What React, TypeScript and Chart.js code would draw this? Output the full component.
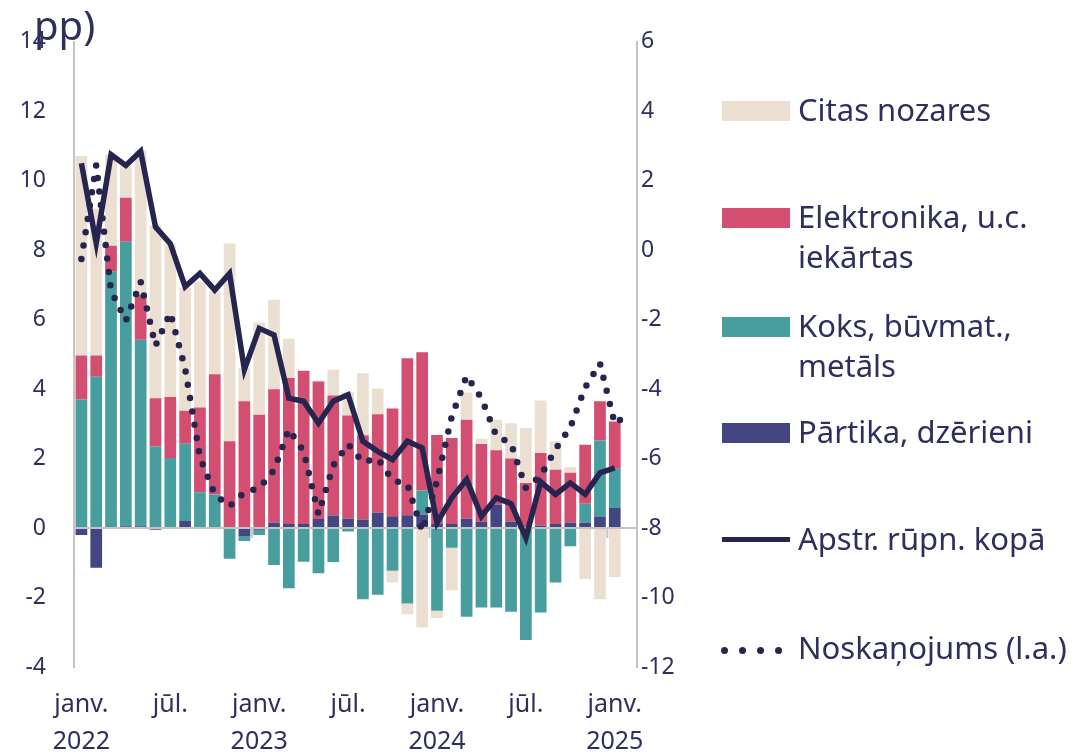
import React, { useEffect, useRef } from 'react';
import { Chart, registerables } from 'chart.js';

Chart.register(...registerables);

// ---- data ----
const months = [
  'janv. 2022', 'febr. 2022', 'marts 2022', 'apr. 2022', 'maijs 2022', 'jūn. 2022',
  'jūl. 2022', 'aug. 2022', 'sept. 2022', 'okt. 2022', 'nov. 2022', 'dec. 2022',
  'janv. 2023', 'febr. 2023', 'marts 2023', 'apr. 2023', 'maijs 2023', 'jūn. 2023',
  'jūl. 2023', 'aug. 2023', 'sept. 2023', 'okt. 2023', 'nov. 2023', 'dec. 2023',
  'janv. 2024', 'febr. 2024', 'marts 2024', 'apr. 2024', 'maijs 2024', 'jūn. 2024',
  'jūl. 2024', 'aug. 2024', 'sept. 2024', 'okt. 2024', 'nov. 2024', 'dec. 2024',
  'janv. 2025', 'febr. 2025',
];

const partika = [
  -0.2, -1.14, 0, 0.05, 0.05, -0.05, 0, 0.2, 0, 0, 0, -0.23,
  -0.05, 0.15, 0.12, 0.12, 0.26, 0.36, 0.27, 0.25, 0.44, 0.34, 0.37, 0.39,
  0.13, 0.12, 0.27, 0.18, 0.67, 0.18, 0.05, 0.07, 0.12, 0.15, 0.15, 0.33,
  0.58, null,
];

const koks = [
  3.7, 4.36, 7.38, 8.19, 5.37, 2.35, 2.02, 2.23, 1.03, 0.97, -0.88, -0.14,
  -0.15, -1.06, -1.73, -0.97, -1.3, -0.98, -0.1, -2.05, -1.92, -1.23, -2.17, 0.69,
  -2.38, -0.57, -2.55, -2.29, -2.29, -2.41, -3.22, -2.43, -1.57, -0.52, 0.55, 2.19,
  1.13, null,
];

const elektronika = [
  1.27, 0.61, 0.75, 1.27, 1.29, 1.39, 1.75, 0.95, 2.44, 3.46, 2.5, 3.65,
  3.26, 3.85, 4.2, 4.41, 3.96, 3.46, 2.97, 2.42, 2.84, 3.1, 4.52, 3.98,
  2.55, 2.47, 2.85, 2.24, 1.57, 1.82, 1.25, 2.09, 1.56, 1.44, 1.7, 1.13,
  1.36, null,
];

const citas = [
  5.74, 4.23, 2.62, 0.93, 4.16, 4.98, 4.42, 3.54, 3.62, 2.39, 5.69, 0.95,
  2.66, 2.57, 1.13, 0, 0.03, 0.74, 0.67, 1.79, 0.73, -0.34, -0.31, -2.86,
  -0.21, -1.22, 0.78, 0.15, 0.88, 1.02, 1.58, 1.51, 0.82, 0.16, -1.47, -2.05,
  -1.41, null,
];

const kopa = [
  10.5, 8.2, 10.75, 10.44, 10.85, 8.67, 8.19, 6.95, 7.33, 6.85, 7.33, 4.56,
  5.75, 5.56, 3.74, 3.65, 3.02, 3.65, 3.84, 2.5, 2.21, 1.97, 2.5, 2.31,
  0.15, 0.87, 1.4, 0.34, 0.87, 0.7, -0.28, 1.33, 0.97, 1.3, 0.97, 1.59,
  1.73, null,
];

const noskanojums = [
  -0.25, 2.45, -1.17, -2.03, -0.91, -2.75, -1.8, -3.41, -5.96, -7.03, -7.37, -6.97,
  -6.85, -6.33, -5.16, -5.79, -7.6, -6.2, -5.59, -6.1, -6.0, -6.62, -6.74, -8.09,
  -6.65, -4.78, -3.62, -4.26, -5.34, -5.57, -6.85, -6.5, -5.73, -5.1, -3.95, -3.26,
  -5.0, -4.68,
];

const leftTicks = { min: -4, max: 14, step: 2 };
const rightTicks = { min: -12, max: 6, step: 2 };

// ---- styles ----
const FONT = '"Noto Sans", "Open Sans", sans-serif';
const TEXT = '#2f2f5e';
const GRAY = '#c4c4c4';
const NAVY_LINE = '#25254f';
const C_BEIGE = '#eadfd0';
const C_PINK = '#d24f72';
const C_TEAL = '#489e9e';
const C_NAVY = '#444682';

const legendItems = [
  { kind: 'box', color: C_BEIGE, lines: ['Citas nozares'], top: 89 },
  { kind: 'box', color: C_PINK, lines: ['Elektronika, u.c.', 'iekārtas'], top: 196 },
  { kind: 'box', color: C_TEAL, lines: ['Koks, būvmat.,', 'metāls'], top: 305 },
  { kind: 'box', color: C_NAVY, lines: ['Pārtika, dzērieni'], top: 411 },
  { kind: 'line', color: NAVY_LINE, lines: ['Apstr. rūpn. kopā'], top: 518 },
  { kind: 'dots', color: NAVY_LINE, lines: ['Noskaņojums (l.a.)'], top: 627 },
];

function xTick(i: number): string | string[] {
  const [m, y] = months[i].split(' ');
  if (m === 'janv.') return ['janv.', y];
  if (m === 'jūl.') return 'jūl.';
  return '';
}

const yearTicks = {
  id: 'yearTicks',
  beforeDatasetsDraw(chart: any) {
    const xs = chart.scales.x;
    const ys = chart.scales.y;
    const y0 = ys.getPixelForValue(0);
    const ctx = chart.ctx;
    ctx.save();
    ctx.strokeStyle = GRAY;
    ctx.lineWidth = 2;
    months.forEach((m, i) => {
      if (i > 0 && m.startsWith('janv.')) {
        const px = (xs.getPixelForValue(i - 1) + xs.getPixelForValue(i)) / 2;
        ctx.beginPath();
        ctx.moveTo(px, y0);
        ctx.lineTo(px, y0 + 10);
        ctx.stroke();
      }
    });
    ctx.restore();
  },
};

export default function App() {
  const ref = useRef<HTMLCanvasElement | null>(null);

  useEffect(() => {
    if (!ref.current) return;
    const chart = new Chart(ref.current, {
      data: {
        labels: months,
        datasets: [
          {
            type: 'line',
            label: 'Apstr. rūpn. kopā',
            data: kopa,
            yAxisID: 'y',
            stack: 'line',
            borderColor: NAVY_LINE,
            borderWidth: 5.5,
            borderJoinStyle: 'miter',
            pointRadius: 0,
            tension: 0,
            order: 0,
          },
          {
            type: 'line',
            label: 'Noskaņojums (l.a.)',
            data: noskanojums,
            yAxisID: 'y2',
            borderColor: NAVY_LINE,
            borderWidth: 6.5,
            borderDash: [0, 13.5],
            borderCapStyle: 'round',
            pointRadius: 0,
            tension: 0,
            order: 1,
          },
          { type: 'bar', label: 'Pārtika, dzērieni', data: partika, backgroundColor: C_NAVY, stack: 'bars', yAxisID: 'y', order: 2 },
          { type: 'bar', label: 'Koks, būvmat., metāls', data: koks, backgroundColor: C_TEAL, stack: 'bars', yAxisID: 'y', order: 2 },
          { type: 'bar', label: 'Elektronika, u.c. iekārtas', data: elektronika, backgroundColor: C_PINK, stack: 'bars', yAxisID: 'y', order: 2 },
          { type: 'bar', label: 'Citas nozares', data: citas, backgroundColor: C_BEIGE, stack: 'bars', yAxisID: 'y', order: 2 },
        ] as any,
      },
      options: {
        animation: false,
        responsive: false,
        maintainAspectRatio: false,
        layout: { padding: { left: 0, right: 0, top: 40, bottom: 0 } },
        datasets: { bar: { categoryPercentage: 1, barPercentage: 0.79 } } as any,
        plugins: {
          legend: { display: false },
          tooltip: { enabled: false },
        },
        scales: {
          x: {
            type: 'category',
            offset: true,
            stacked: true,
            grid: { display: false, drawTicks: false },
            border: { display: false },
            ticks: {
              autoSkip: false,
              maxRotation: 0,
              minRotation: 0,
              padding: 19,
              color: TEXT,
              font: { family: FONT, size: 25, lineHeight: 1.48 },
              callback: (_v: any, i: number) => xTick(i),
            },
            afterFit: (s: any) => { s.height = 88; },
          },
          y: {
            position: 'left',
            stacked: true,
            min: leftTicks.min,
            max: leftTicks.max,
            ticks: {
              stepSize: leftTicks.step,
              padding: 28,
              color: TEXT,
              font: { family: FONT, size: 23 },
            },
            grid: {
              drawTicks: false,
              color: (c: any) => (c.tick && c.tick.value === 0 ? GRAY : 'rgba(0,0,0,0)'),
              lineWidth: 2,
            },
            border: { display: true, color: GRAY, width: 2 },
            afterFit: (s: any) => { s.width = 74; },
          },
          y2: {
            position: 'right',
            min: rightTicks.min,
            max: rightTicks.max,
            ticks: {
              stepSize: rightTicks.step,
              padding: 4,
              color: TEXT,
              font: { family: FONT, size: 23 },
            },
            grid: { display: false, drawTicks: false },
            border: { display: true, color: GRAY, width: 2 },
            afterFit: (s: any) => { s.width = 440; },
          },
        },
      } as any,
      plugins: [yearTicks],
    });
    return () => chart.destroy();
  }, []);

  return (
    <div style={{ position: 'absolute', left: 0, top: 0, width: 1077, height: 755, background: '#fff', overflow: 'hidden', fontFamily: FONT }}>
      <canvas ref={ref} width={1077} height={755} style={{ position: 'absolute', left: 0, top: 0, width: 1077, height: 755 }} />
      <div style={{ position: 'absolute', left: 34, top: 5, fontSize: 40, lineHeight: '40px', color: TEXT, whiteSpace: 'nowrap' }}>pp)</div>
      {legendItems.map((it, k) => (
        <div key={k} style={{ position: 'absolute', left: 0, top: it.top, width: 1077 }}>
          {it.kind === 'box' && (
            <div style={{ position: 'absolute', left: 722, top: 12, width: 68, height: 20, background: it.color }} />
          )}
          {it.kind === 'line' && (
            <div style={{ position: 'absolute', left: 722, top: 19, width: 68, height: 5, background: it.color }} />
          )}
          {it.kind === 'dots' &&
            [0, 1, 2, 3].map((d) => (
              <div key={d} style={{ position: 'absolute', left: 721 + d * 18, top: 20, width: 7, height: 7, borderRadius: 4, background: it.color }} />
            ))}
          <div style={{ position: 'absolute', left: 798, top: 0, fontSize: 31, lineHeight: '40px', color: TEXT, whiteSpace: 'nowrap' }}>
            {it.lines.map((l, j) => (
              <div key={j}>{l}</div>
            ))}
          </div>
        </div>
      ))}
    </div>
  );
}
